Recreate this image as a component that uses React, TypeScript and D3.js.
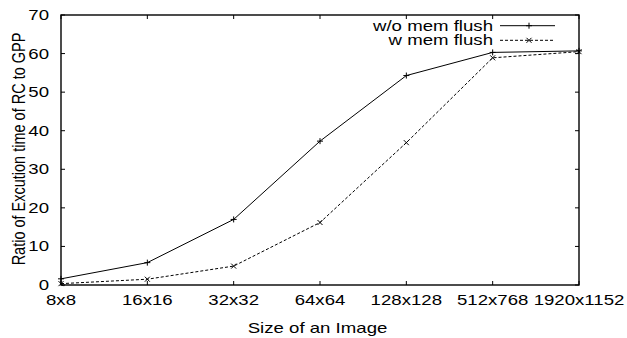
import React from 'react'
import * as d3 from 'd3'

const categories = ['8x8', '16x16', '32x32', '64x64', '128x128', '512x768', '1920x1152']
const withoutFlush = [1.6, 5.8, 17.0, 37.3, 54.3, 60.3, 60.7]
const withFlush = [0.35, 1.5, 4.9, 16.2, 36.9, 58.9, 60.5]
const yTicks = [0, 10, 20, 30, 40, 50, 60, 70]

const W = 627
const H = 338
const margin = { top: 15, right: 48, bottom: 53, left: 61 }
const font = '"Liberation Sans", Arial, sans-serif'
const SX = 1.33 // the original text is drawn wider than it is tall

function T({ x, y, anchor, size, children, rotate }: {
  x: number; y: number; anchor: string; size: number; children: React.ReactNode; rotate?: boolean
}) {
  return (
    <text
      transform={`translate(${x},${y}) scale(${SX},1)${rotate ? ' rotate(-90)' : ''}`}
      textAnchor={anchor}
      fontSize={size}
      fill="#000"
    >
      {children}
    </text>
  )
}

export default function App() {
  const iw = W - margin.left - margin.right
  const ih = H - margin.top - margin.bottom
  const x = d3.scalePoint<string>().domain(categories).range([0, iw])
  const y = d3.scaleLinear().domain([0, 70]).range([ih, 0])

  const line = d3.line<number>()
    .x((_, i) => x(categories[i]) ?? 0)
    .y(d => y(d))

  const tick = 4
  const plus = (cx: number, cy: number, k: string) => (
    <path key={k} d={`M${cx - 3},${cy}H${cx + 3}M${cx},${cy - 3}V${cy + 3}`} stroke="#000" strokeWidth={1} />
  )
  const cross = (cx: number, cy: number, k: string) => (
    <path key={k} d={`M${cx - 2.5},${cy - 2.5}L${cx + 2.5},${cy + 2.5}M${cx - 2.5},${cy + 2.5}L${cx + 2.5},${cy - 2.5}`} stroke="#000" strokeWidth={1} />
  )

  return (
    <svg width={W} height={H} style={{ position: 'absolute', left: 0, top: 0, background: '#fff' }} fontFamily={font}>
      <g transform={`translate(${margin.left},${margin.top})`}>
        {yTicks.map(t => (
          <g key={t}>
            <line x1={0} x2={tick} y1={y(t)} y2={y(t)} stroke="#000" />
            <line x1={iw} x2={iw - tick} y1={y(t)} y2={y(t)} stroke="#000" />
            <T x={-12} y={y(t) + 5} anchor="end" size={14}>{t}</T>
          </g>
        ))}
        {categories.map(c => (
          <g key={c}>
            <line x1={x(c)} x2={x(c)} y1={ih} y2={ih - tick} stroke="#000" />
            <line x1={x(c)} x2={x(c)} y1={0} y2={tick} stroke="#000" />
            <T x={x(c) ?? 0} y={ih + 20} anchor="middle" size={14}>{c}</T>
          </g>
        ))}
        <rect x={0} y={0} width={iw} height={ih} fill="none" stroke="#000" strokeWidth={1.4} />

        <path d={line(withoutFlush) ?? ''} fill="none" stroke="#000" strokeWidth={1} />
        <path d={line(withFlush) ?? ''} fill="none" stroke="#000" strokeWidth={1} strokeDasharray="3,2" />
        {withoutFlush.map((v, i) => plus(x(categories[i]) ?? 0, y(v), 'p' + i))}
        {withFlush.map((v, i) => cross(x(categories[i]) ?? 0, y(v), 'c' + i))}

        <T x={432} y={15.8} anchor="end" size={14}>w/o mem flush</T>
        <line x1={439} x2={494} y1={10.7} y2={10.7} stroke="#000" />
        {plus(468, 10.7, 'lp')}
        <T x={432} y={29.8} anchor="end" size={14}>w mem flush</T>
        <line x1={439} x2={494} y1={25.3} y2={25.3} stroke="#000" strokeDasharray="3,2" />
        {cross(468, 25.3, 'lc')}
      </g>
      <T x={317.5} y={333} anchor="middle" size={14}>Size of an Image</T>
      <T x={25} y={149} anchor="middle" size={14.5} rotate>Ratio of Excution time of RC to GPP</T>
    </svg>
  )
}
